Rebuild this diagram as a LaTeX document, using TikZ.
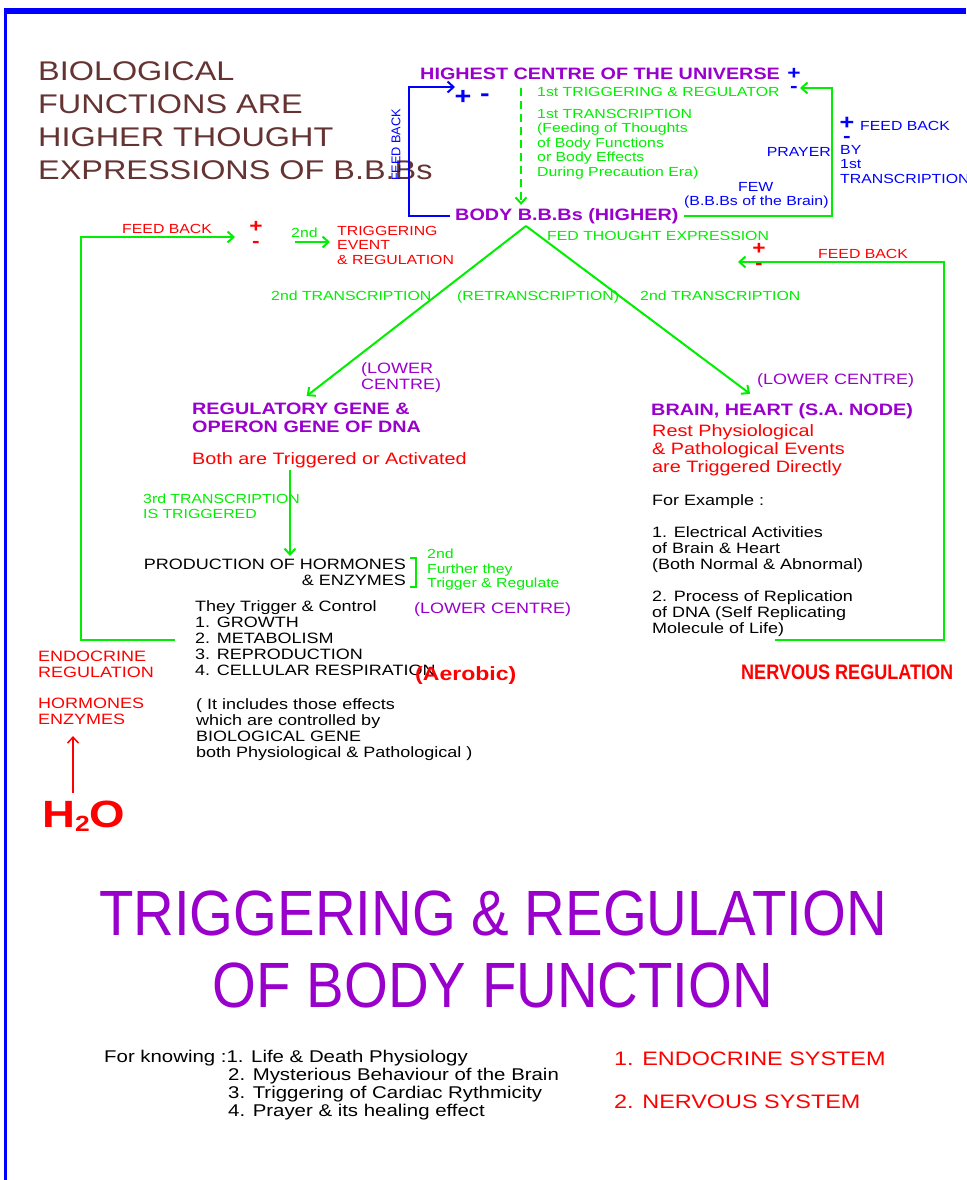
\documentclass[tikz,border=0pt]{standalone}
\usepackage{fontspec}
\setmainfont[FakeStretch=1.2]{Liberation Sans}
\newfontfamily\narrowfont[FakeStretch=0.88]{Liberation Sans}
\newfontfamily\condfont[FakeStretch=0.86]{Liberation Sans}
\newfontfamily\plainfont{Liberation Sans}
\usetikzlibrary{arrows.meta}

\definecolor{bbpurple}{RGB}{153,0,204}
\definecolor{bbgreen}{RGB}{0,238,0}
\definecolor{bbbrown}{RGB}{102,51,51}

\tikzset{
	txt/.style={inner sep=0pt, align=left},
	small/.style={font=\fontsize{13.2}{14.5}\selectfont},
	mid/.style={font=\fontsize{15}{16}\selectfont},
	large/.style={font=\fontsize{16.5}{18}\selectfont},
	head/.style={font=\bfseries\fontsize{16.5}{18}\selectfont, text=bbpurple},
	sign/.style={inner sep=0pt, font=\bfseries\fontsize{19}{19}\selectfont},
	gline/.style={draw=bbgreen, line width=2pt},
	bline/.style={draw=blue, line width=2pt},
}

\begin{document}
\begin{tikzpicture}[x=1pt, y=-1pt, >={Straight Barb[length=6pt,width=11pt]}]
		\useasboundingbox (0,0) rectangle (966,1180);
		
		% Frame
		\draw[blue, line width=6pt] (4,11) -- (966,11);
		\draw[blue, line width=3pt] (5.5,8) -- (5.5,1180);
		
		% Heading on the left
		\node[txt, anchor=north west, text=bbbrown, font=\fontsize{27}{33}\selectfont] (intro) at (38,61)
			{BIOLOGICAL\\FUNCTIONS ARE\\HIGHER THOUGHT\\EXPRESSIONS OF B.B.Bs};
		
		% Highest centre and body B.B.Bs
		\node[txt, anchor=base west, head] (highest) at (420,80) {HIGHEST CENTRE OF THE UNIVERSE};
		\node[sign, text=blue] (hplus) at (794,74) {+};
		\node[sign, text=blue] (hminus) at (794,89) {-};
		\node[sign, text=blue, font=\bfseries\fontsize{24}{24}\selectfont] (fplus) at (463,97) {+};
		\node[sign, text=blue, font=\bfseries\fontsize{24}{24}\selectfont] (fminus) at (485,98) {-};
		\node[txt, anchor=base west, head] (body) at (455,220) {BODY B.B.Bs (HIGHER)};
		
		% First transcription
		\node[txt, small, text=bbgreen, anchor=base west] (trig1) at (537,97) {1st TRIGGERING \& REGULATOR};
		\node[txt, small, text=bbgreen, anchor=north west] (trans1) at (537,109)
			{1st TRANSCRIPTION\\(Feeding of Thoughts\\of Body Functions\\or Body Effects\\During Precaution Era)};
		\coordinate (dtop) at (521,88);
		\draw[gline, dash pattern=on 8pt off 5pt, ->] (dtop) -- ([yshift=3pt]dtop |- body.north);
		
		% Feed back to the highest centre
		\coordinate (fbcorner) at (409,87);
		\coordinate (fbin) at (455,87);
		\draw[bline, ->] ([xshift=-5pt]body.west) -| (fbcorner) -- (fbin);
		\node[txt, text=blue, rotate=90, font=\plainfont\fontsize{12.7}{14}\selectfont] (fbtext) at (396,145) {FEED BACK};
		
		% Prayer
		\coordinate (praycorner) at (832,88);
		\coordinate (prayin) at (800,88);
		\draw[gline, ->] ([xshift=5pt]body.east) -| (praycorner) -- (prayin);
		\node[txt, small, text=blue, anchor=base east] (prayer) at (831,156) {PRAYER};
		\node[txt, small, text=blue, anchor=base west] (few) at (738,191) {FEW};
		\node[txt, small, text=blue, anchor=base west] (fewbrain) at (684,205) {(B.B.Bs of the Brain)};
		\node[sign, text=blue, font=\bfseries\fontsize{21}{21}\selectfont] (pplus) at (847,123) {+};
		\node[sign, text=blue] (pminus) at (847,139) {-};
		\node[txt, small, text=blue, anchor=base west] (pfeed) at (860,131) {FEED BACK};
		\node[txt, small, text=blue, anchor=north west] (pby) at (840,145) {BY\\1st\\TRANSCRIPTION};
		
		% Second transcription
		\coordinate (apex) at (526,226);
		\node[txt, small, text=bbgreen, anchor=base west] (fedexp) at (547,240) {FED THOUGHT EXPRESSION};
		\node[txt, small, text=bbgreen, anchor=base west] (trans2l) at (271,300) {2nd TRANSCRIPTION};
		\node[txt, small, text=bbgreen, anchor=base west] (retrans) at (457,300) {(RETRANSCRIPTION)};
		\node[txt, small, text=bbgreen, anchor=base west] (trans2r) at (640,300) {2nd TRANSCRIPTION};
		
		% Left branch: genes
		\node[txt, mid, text=bbpurple, anchor=north west] (lowl) at (361,362) {(LOWER\\CENTRE)};
		\node[txt, head, anchor=north west] (reg) at (192,403) {REGULATORY GENE \&\\OPERON GENE OF DNA};
		\node[txt, large, text=red, anchor=base west] (both) at (192,464) {Both are Triggered or Activated};
		\node[txt, small, text=bbgreen, anchor=north west] (trans3) at (143,494) {3rd TRANSCRIPTION\\IS TRIGGERED};
		\node[txt, mid, align=right, anchor=north east] (prod) at (406,559) {PRODUCTION OF HORMONES\\\& ENZYMES};
		\draw[gline, line width=2.5pt] (410,558) -- (416,558) -- (416,587) -- (410,587);
		\node[txt, small, text=bbgreen, anchor=north west] (further) at (427,549) {2nd\\Further they\\Trigger \& Regulate};
		\node[txt, mid, text=bbpurple, anchor=base west] (lowm) at (414,613) {(LOWER CENTRE)};
		\node[txt, mid, anchor=north west] (control) at (195,600)
			{They Trigger \& Control\\1. GROWTH\\2. METABOLISM\\3. REPRODUCTION\\4. CELLULAR RESPIRATION};
		\node[txt, text=red, anchor=base west, font=\bfseries\fontsize{19.2}{20}\selectfont] (aerobic) at (415,680) {(Aerobic)};
		\node[txt, mid, anchor=north west] (includes) at (196,698)
			{( It includes those effects\\which are controlled by\\BIOLOGICAL GENE\\both Physiological \& Pathological )};
		\draw[gline, ->] (apex) -- ([yshift=7pt]reg.north);
		\coordinate (t3top) at (290,470);
		\draw[gline, ->] (t3top) -- ([yshift=3pt]t3top |- prod.north);
		
		% Endocrine side
		\node[txt, mid, text=red, anchor=north west] (endo) at (38,651) {ENDOCRINE\\REGULATION};
		\node[txt, mid, text=red, anchor=north west] (horm) at (38,698) {HORMONES\\ENZYMES};
		\node[txt, text=red, anchor=base west, font=\bfseries\fontsize{38}{38}\selectfont] (water) at (42,827)
			{H\raisebox{-4pt}{\fontsize{22}{22}\selectfont 2}O};
		\coordinate (wtop) at (73,793);
		\draw[red, line width=1.5pt, ->] (wtop) -- ([yshift=-11pt]wtop |- horm.south);
		
		% Left feed back
		\coordinate (endoout) at (175,640);
		\coordinate (endocorner) at (81,237);
		\coordinate (endoin) at (235,237);
		\draw[gline, ->] (endoout) -| (endocorner) -- (endoin);
		\node[txt, small, text=red, anchor=base west] (lfeed) at (122,233) {FEED BACK};
		\node[sign, text=red] (lplus) at (256,227) {+};
		\node[sign, text=red] (lminus) at (256,244) {-};
		\node[txt, small, text=bbgreen, anchor=base west] (sec2) at (291,237) {2nd};
		\coordinate (sec2a) at (295,242);
		\coordinate (sec2b) at (330,242);
		\draw[gline, ->] (sec2a) -- (sec2b);
		\node[txt, small, text=red, anchor=north west] (trigev) at (337,226) {TRIGGERING\\EVENT\\\& REGULATION};
		
		% Right branch: brain and heart
		\node[txt, mid, text=bbpurple, anchor=base west] (lowr) at (757,384) {(LOWER CENTRE)};
		\node[txt, head, anchor=base west] (brain) at (651,415) {BRAIN, HEART (S.A. NODE)};
		\node[txt, large, text=red, anchor=north west] (rest) at (652,424)
			{Rest Physiological\\\& Pathological Events\\are Triggered Directly};
		\node[txt, mid, anchor=base west] (example) at (652,505) {For Example :};
		\node[txt, mid, anchor=north west] (elec) at (652,526) {1. Electrical Activities\\of Brain \& Heart\\(Both Normal \& Abnormal)};
		\node[txt, mid, anchor=north west] (repl) at (652,590) {2. Process of Replication\\of DNA (Self Replicating\\Molecule of Life)};
		\node[txt, text=red, anchor=base west, font=\condfont\bfseries\fontsize{21}{21}\selectfont] (nervous) at (741,679) {NERVOUS REGULATION};
		\draw[gline, ->] (apex) -- ([xshift=-32pt,yshift=9pt]brain.north);
		
		% Right feed back
		\coordinate (rightout) at (775,640);
		\coordinate (rightcorner) at (944,262);
		\coordinate (rightin) at (738,262);
		\draw[gline, ->] (rightout) -| (rightcorner) -- (rightin);
		\node[txt, small, text=red, anchor=base west] (rfeed) at (818,258) {FEED BACK};
		\node[sign, text=red] (rplus) at (759,249) {+};
		\node[sign, text=red] (rminus) at (759,266) {-};
		
		% Title
		\node[align=center, inner sep=0pt, anchor=north, text=bbpurple, font=\narrowfont\fontsize{64}{72}\selectfont] (title) at (493,891)
			{TRIGGERING \& REGULATION\\OF BODY FUNCTION};
		
		% For knowing
		\node[txt, anchor=base west, font=\fontsize{17}{18}\selectfont] (know) at (104,1062) {For knowing :1. Life \& Death Physiology};
		\node[txt, anchor=north west, font=\fontsize{17}{18}\selectfont] (knowlist) at (228,1068)
			{2. Mysterious Behaviour of the Brain\\3. Triggering of Cardiac Rythmicity\\4. Prayer \& its healing effect};
		\node[txt, text=red, anchor=base west, font=\fontsize{19.5}{20}\selectfont] (sys1) at (614,1065) {1. ENDOCRINE SYSTEM};
		\node[txt, text=red, anchor=base west, font=\fontsize{19.5}{20}\selectfont] (sys2) at (614,1108) {2. NERVOUS SYSTEM};
	\end{tikzpicture}
\end{document}
